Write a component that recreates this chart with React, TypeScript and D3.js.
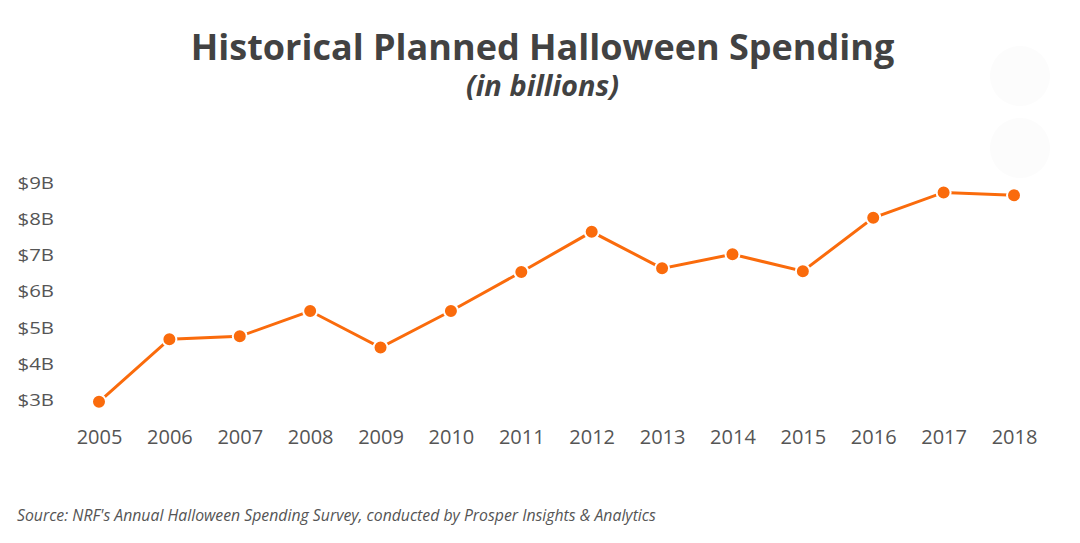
import React, { useEffect, useRef } from 'react'
import * as d3 from 'd3'

const years: string[] = ['2005', '2006', '2007', '2008', '2009', '2010', '2011', '2012', '2013', '2014', '2015', '2016', '2017', '2018']
const spending: number[] = [2.95, 4.68, 4.76, 5.46, 4.45, 5.46, 6.54, 7.65, 6.64, 7.03, 6.56, 8.04, 8.74, 8.66]
const yTicks: number[] = [3, 4, 5, 6, 7, 8, 9]

const W = 1080
const H = 543
const FONT = '"Open Sans", "Noto Sans", sans-serif'
const ORANGE = '#fa6b0c'

const App = () => {
  const svgRef = useRef<SVGSVGElement | null>(null)

  useEffect(() => {
    const svg = d3.select(svgRef.current)
    svg.selectAll('*').remove()

    // escalas
    const x = d3.scalePoint<string>().domain(years).range([99, 1014])
    const y = d3.scaleLinear().domain([3, 9]).range([400, 183])

    // circulos de fondo casi invisibles
    svg.append('circle').attr('cx', 1020).attr('cy', 76).attr('r', 30).attr('fill', '#fcfcfc')
    svg.append('circle').attr('cx', 1020).attr('cy', 148).attr('r', 30).attr('fill', '#fcfcfc')

    // titulo
    svg.append('text')
      .attr('x', 542.5).attr('y', 59.5)
      .attr('text-anchor', 'middle')
      .style('font-family', FONT).style('font-weight', 700).style('font-size', '36px')
      .attr('fill', '#424242')
      .text('Historical Planned Halloween Spending')
    svg.append('text')
      .attr('x', 542.5).attr('y', 96)
      .attr('text-anchor', 'middle')
      .style('font-family', FONT).style('font-weight', 700).style('font-style', 'italic').style('font-size', '29px')
      .attr('fill', '#424242')
      .text('(in billions)')

    // ejes
    const yAxis = d3.axisLeft(y).tickValues(yTicks).tickSize(0).tickPadding(0).tickFormat(d => `$${d}B`)
    const gy = svg.append('g').attr('transform', 'translate(54,0)').call(yAxis)
    gy.select('.domain').remove()
    gy.selectAll('text')
      .style('font-family', FONT).style('font-size', '17px').attr('fill', '#555')
      .attr('transform', 'scale(1.2,1)')

    const xAxis = d3.axisBottom(x).tickSize(0).tickPadding(0)
    const gx = svg.append('g').attr('transform', 'translate(0,430)').call(xAxis)
    gx.select('.domain').remove()
    gx.selectAll('text').style('font-family', FONT).style('font-size', '20px').attr('fill', '#555')

    // linea
    const line = d3.line<number>().x((_, i) => x(years[i])!).y(d => y(d))
    svg.append('path')
      .datum(spending)
      .attr('d', line)
      .attr('fill', 'none')
      .attr('stroke', ORANGE)
      .attr('stroke-width', 3)

    svg.selectAll('circle.dot')
      .data(spending)
      .join('circle')
      .attr('class', 'dot')
      .attr('cx', (_, i) => x(years[i])!)
      .attr('cy', d => y(d))
      .attr('r', 7)
      .attr('fill', ORANGE)
      .attr('stroke', '#fff')
      .attr('stroke-width', 2)

    // fuente
    svg.append('text')
      .attr('x', 17).attr('y', 521)
      .style('font-family', FONT).style('font-style', 'italic').style('font-size', '15.8px')
      .attr('fill', '#555')
      .text("Source: NRF's Annual Halloween Spending Survey, conducted by Prosper Insights & Analytics")
  }, [])

  return (
    <svg ref={svgRef} width={W} height={H}
      style={{ position: 'absolute', left: 0, top: 0, background: '#fff' }} />
  )
}

export default App
